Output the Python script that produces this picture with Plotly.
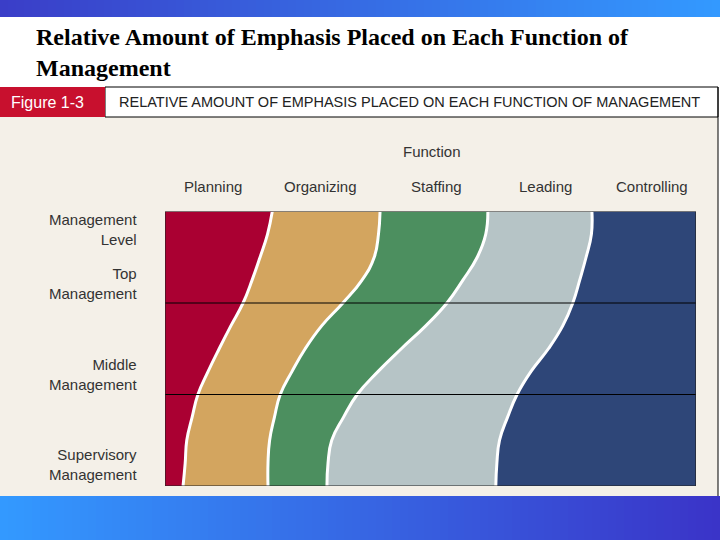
import plotly.graph_objects as go

# position down the management ladder: 3 = top of Top Management, 0 = bottom of Supervisory
LEVELS = [3, 2.75, 2.5, 2.25, 2, 1.75, 1.5, 1.25, 1, 0.75, 0.5, 0.25, 0]
FUNCTIONS = ["Planning", "Organizing", "Staffing", "Leading", "Controlling"]

# share of emphasis (% of width) for each function at each level
planning = [20.2, 19.3, 17.9, 16.4, 14.7, 12.4, 10.2, 8.1, 6.2, 5.1, 4.1, 3.8, 3.4]
organizing = [20.3, 20.9, 21.5, 20.7, 18.8, 17.1, 16.2, 15.8, 15.5, 15.5, 15.6, 15.6, 16.0]
staffing = [20.3, 20.2, 19.4, 19.0, 19.6, 19.6, 18.1, 16.2, 14.5, 13.0, 11.7, 11.3, 11.1]
leading = [19.6, 19.9, 20.5, 22.0, 23.7, 25.8, 27.7, 28.8, 30.1, 30.9, 31.6, 31.8, 31.8]
controlling = [19.6, 19.7, 20.7, 21.9, 23.2, 25.1, 27.8, 31.1, 33.7, 35.5, 37.0, 37.5, 37.7]

LEVEL_LABELS = ["Management<br>Level", "Top<br>Management", "Middle<br>Management",
                "Supervisory<br>Management"]

COLORS = ["#aa0032", "#d3a55f", "#4c8f5f", "#b6c4c6", "#2e4678"]
BEIGE = "#f4f0e8"
FONT = "Liberation Sans, Arial, sans-serif"
W, H = 720, 540


def px(x):
    return x / W


def py(y):
    return (H - y) / H


def mix(c1, c2, t):
    return "rgb(%d,%d,%d)" % tuple(round(a + (b - a) * t) for a, b in zip(c1, c2))


fig = go.Figure()
series = [planning, organizing, staffing, leading, controlling]
for name, vals, color in zip(FUNCTIONS, series, COLORS):
    fig.add_trace(go.Scatter(
        x=vals, y=LEVELS, name=name, stackgroup="f", orientation="h",
        mode="lines", fillcolor=color,
        line=dict(color="white" if name != "Controlling" else color,
                  width=0 if name == "Controlling" else 3,
                  shape="spline", smoothing=1.3),
        hovertemplate=name + ": %{x:.1f}%<extra></extra>", showlegend=False,
    ))

shapes = []
# gradient bars of the slide
n = 90
for i in range(n):
    t = i / (n - 1)
    shapes.append(dict(type="rect", xref="paper", yref="paper", x0=i / n, x1=(i + 1) / n + 0.002,
                       y0=py(17), y1=1, line_width=0, fillcolor=mix((58, 62, 200), (51, 153, 255), t),
                       layer="below"))
    shapes.append(dict(type="rect", xref="paper", yref="paper", x0=i / n, x1=(i + 1) / n + 0.002,
                       y0=0, y1=py(496), line_width=0, fillcolor=mix((51, 153, 255), (58, 52, 200), t),
                       layer="below"))

# figure panel
shapes += [
    dict(type="rect", xref="paper", yref="paper", x0=0, x1=px(718), y0=py(496), y1=py(117),
         fillcolor=BEIGE, line_width=0, layer="below"),
    dict(type="rect", xref="paper", yref="paper", x0=px(105), x1=px(718), y0=py(117), y1=py(87),
         fillcolor="white", line=dict(color="black", width=1), layer="below"),
    dict(type="rect", xref="paper", yref="paper", x0=0, x1=px(105), y0=py(117), y1=py(87),
         fillcolor="#c8102e", line_width=0, layer="below"),
    dict(type="line", xref="paper", yref="paper", x0=px(718), x1=px(718), y0=py(496), y1=py(87),
         line=dict(color="black", width=1)),
    dict(type="line", xref="x", yref="y", x0=0, x1=100, y0=1, y1=1, line=dict(color="black", width=1.2)),
    dict(type="line", xref="x", yref="y", x0=0, x1=100, y0=2, y1=2, line=dict(color="black", width=1.2)),
    dict(type="rect", xref="x", yref="y", x0=0, x1=100, y0=0, y1=3, line=dict(color="#222", width=1.2)),
]

ann = [
    dict(text="Relative Amount of Emphasis Placed on Each Function of<br>Management",
         x=px(34), y=py(53), xanchor="left", yanchor="middle", align="left",
         font=dict(family="Liberation Serif, Times New Roman, serif", size=24, weight="bold",
                   color="black")),
    dict(text="Figure 1-3", x=px(47), y=py(102), xanchor="center", yanchor="middle",
         font=dict(family=FONT, size=16, color="white")),
    dict(text="RELATIVE AMOUNT OF EMPHASIS PLACED ON EACH FUNCTION OF MANAGEMENT",
         x=px(117), y=py(102), xanchor="left", yanchor="middle",
         font=dict(family=FONT, size=14.5, color="#222")),
    dict(text="Function", x=px(432), y=py(151), xanchor="center", yanchor="middle",
         font=dict(family=FONT, size=15, color="#333")),
]
for name, xc in zip(FUNCTIONS, [213, 320, 437, 545, 652]):
    ann.append(dict(text=name, x=px(xc), y=py(186), xanchor="center", yanchor="middle",
                    font=dict(family=FONT, size=15, color="#333")))
for lab, yc in zip(LEVEL_LABELS, [229, 283, 374, 464]):
    ann.append(dict(text=lab, x=px(139), y=py(yc), xanchor="right", yanchor="middle", align="right",
                    font=dict(family=FONT, size=15, color="#333")))
for a in ann:
    a.update(xref="paper", yref="paper", showarrow=False)

fig.update_layout(
    width=W, height=H, margin=dict(l=0, r=0, t=0, b=0),
    paper_bgcolor="white", plot_bgcolor="rgba(0,0,0,0)",
    xaxis=dict(range=[0, 100], domain=[px(165), px(696)], visible=False, fixedrange=True),
    yaxis=dict(range=[0, 3], domain=[py(486), py(211.5)], visible=False, fixedrange=True),
    shapes=shapes, annotations=ann, showlegend=False,
)

# the page body has a default 8px margin; drop it so the slide fills the window
fig.write_html("out.html", config={"displayModeBar": False},
               post_script="document.body.style.margin='0';")
